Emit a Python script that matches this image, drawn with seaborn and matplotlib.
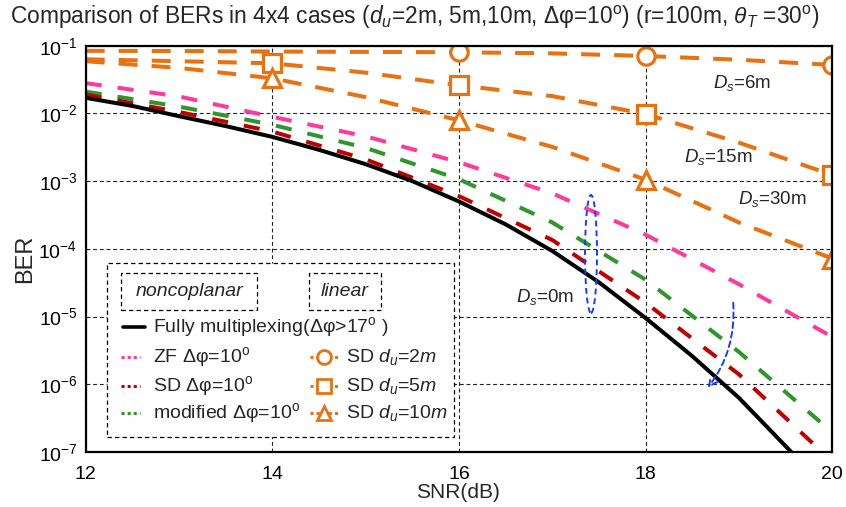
import matplotlib
matplotlib.use("Agg")
import matplotlib.pyplot as plt
import seaborn as sns
import pandas as pd
from matplotlib.patches import Rectangle, Ellipse, FancyArrowPatch
from matplotlib.lines import Line2D
from matplotlib.ticker import NullLocator

# ---------------- data ----------------
snr = [12, 13, 14, 15, 16, 17, 18, 19, 20]

snr_full = [12, 12.5, 13, 13.5, 14, 14.5, 15, 15.5, 16, 16.5, 17, 17.5, 18, 18.5, 19, 19.56]
ber_full = [1.70e-2, 1.29e-2, 9.1e-3, 6.5e-3, 4.5e-3, 2.9e-3, 1.78e-3, 1.0e-3,
            5.0e-4, 2.3e-4, 9.3e-5, 3.2e-5, 9.5e-6, 2.6e-6, 6.3e-7, 1.0e-7]

snr_sd = [12, 13, 14, 15, 16, 17, 18, 19, 19.89]
ber_sd = [1.9e-2, 1.05e-2, 5.4e-3, 2.1e-3, 6.0e-4, 1.35e-4, 1.6e-5, 1.4e-6, 1.0e-7]

ber_mod = [2.1e-2, 1.26e-2, 6.8e-3, 3.1e-3, 1.07e-3, 2.45e-4, 3.5e-5, 3.0e-6, 1.95e-7]
ber_zf = [2.8e-2, 1.78e-2, 8.9e-3, 4.6e-3, 1.9e-3, 6.6e-4, 1.62e-4, 3.0e-5, 5.0e-6]

ber_du2 = [8.4e-2, 8.35e-2, 8.2e-2, 8.1e-2, 8.0e-2, 7.7e-2, 7.05e-2, 6.2e-2, 5.2e-2]
ber_du5 = [6.3e-2, 5.9e-2, 5.5e-2, 4.0e-2, 2.6e-2, 1.8e-2, 9.8e-3, 3.7e-3, 1.23e-3]
ber_du10 = [5.9e-2, 4.7e-2, 3.3e-2, 1.74e-2, 7.9e-3, 3.2e-3, 1.05e-3, 2.45e-4, 7.2e-5]

yticks = [1e-7, 1e-6, 1e-5, 1e-4, 1e-3, 1e-2, 1e-1]
ytick_labels = [r"10$^{-7}$", r"10$^{-6}$", r"10$^{-5}$", r"10$^{-4}$",
                r"10$^{-3}$", r"10$^{-2}$", r"10$^{-1}$"]
xticks = [12, 14, 16, 18, 20]

ORANGE = "#E87212"
PINK = "#FF3A9E"
RED = "#C00000"
GREEN = "#2E962A"
BLUE = "#1A3CFF"

# ---------------- style ----------------
sns.set_theme(style="white")
FONTS = ["Liberation Sans", "DejaVu Sans"]
plt.rcParams["font.family"] = FONTS
plt.rcParams["mathtext.fontset"] = "custom"
plt.rcParams["mathtext.rm"] = "Liberation Sans"
plt.rcParams["mathtext.it"] = "Liberation Sans:italic"
plt.rcParams["mathtext.default"] = "regular"

fig = plt.figure(figsize=(8.46, 5.07), dpi=100)
W, H = 846.0, 507.0
L, T, R, B = 85.7, 45.7, 832.3, 452.0
ax = fig.add_axes([L / W, 1 - B / H, (R - L) / W, (B - T) / H])

def axx(px):
    return (px - L) / (R - L)

def axy(py):
    return (B - py) / (B - T)

LW = 2.9
dash_c = (0, (4.0, 4.0))
dash_o = (0, (4.7, 3.5))

def draw(x, y, color, ls, **kw):
    df = pd.DataFrame({"SNR": x, "BER": y})
    sns.lineplot(data=df, x="SNR", y="BER", ax=ax, color=color, lw=LW,
                 linestyle=ls, estimator=None, sort=False, **kw)

draw(snr, ber_zf, PINK, dash_c)
draw(snr, ber_mod, GREEN, dash_c)
draw(snr_sd, ber_sd, RED, dash_c)
draw(snr_full, ber_full, "black", "-")

mk = dict(markersize=12.5, markeredgewidth=2.3, markerfacecolor="white",
          markeredgecolor=ORANGE)
draw(snr, ber_du2, ORANGE, dash_o, marker="o", markevery=[4, 6, 8], **mk)
draw(snr, ber_du5, ORANGE, dash_o, marker="s", markevery=[2, 4, 6, 8], **mk)
draw(snr, ber_du10, ORANGE, dash_o, marker="^", markevery=[2, 4, 6, 8], **mk)

ax.set_yscale("log")
ax.set_xlim(12, 20)
ax.set_ylim(1e-7, 1e-1)
ax.set_xticks(xticks)
ax.set_xticklabels([str(v) for v in xticks])
ax.set_yticks(yticks)
ax.set_yticklabels(ytick_labels)
ax.yaxis.set_minor_locator(NullLocator())
ax.tick_params(axis="both", length=0, labelsize=14, colors="black")
ax.tick_params(axis="x", pad=10)
ax.tick_params(axis="y", pad=6)
ax.set_xlabel("")
ax.set_ylabel("")
ax.grid(True, which="major", linestyle=(0, (3.5, 2.5)), color="#222222", lw=0.8)
ax.set_axisbelow(True)
for s in ax.spines.values():
    s.set_color("black")
    s.set_linewidth(1.6)
    s.set_zorder(10)

# ---------------- texts ----------------
fig.text(10 / W, 1 - 17 / H,
         r"Comparison of BERs in 4x4 cases ($\mathit{d_u}$=2m, 5m,10m, $\Delta\varphi$=10$^{\rm o}$) "
         r"(r=100m, $\mathit{\theta_T}$ =30$^{\rm o}$)",
         fontsize=16.4, ha="left", va="center")
fig.text(25 / W, 1 - 259 / H, "BER", rotation=90, fontsize=17, ha="center", va="center")
fig.text(458 / W, 1 - 493 / H, "SNR(dB)", fontsize=15, ha="center", va="center")

ann = dict(transform=ax.transAxes, fontsize=13.5, ha="center", va="center")
ax.text(axx(742), axy(83), r"$\mathit{D_s}$=6m", **ann)
ax.text(axx(718), axy(157), r"$\mathit{D_s}$=15m", **ann)
ax.text(axx(772), axy(199), r"$\mathit{D_s}$=30m", **ann)
ax.text(axx(545), axy(297), r"$\mathit{D_s}$=0m", **ann)

# blue ellipse and curved arrow
ax.add_patch(Ellipse((axx(591), axy(254)), 12 / (R - L), 118 / (B - T),
                     transform=ax.transAxes, fill=False, edgecolor=BLUE,
                     lw=1.4, linestyle=(0, (3, 2)), zorder=6))
ax.add_patch(FancyArrowPatch((axx(733), axy(300)), (axx(706), axy(390)),
                             transform=ax.transAxes, connectionstyle="arc3,rad=-0.2",
                             arrowstyle="->,head_length=6,head_width=3",
                             color=BLUE, lw=1.4, linestyle=(0, (3, 2)), zorder=6))

# ---------------- legend block ----------------
box = dict(transform=ax.transAxes, facecolor="white", edgecolor="black",
           lw=0.9, linestyle=(0, (3.5, 2.5)))
ax.add_patch(Rectangle((axx(107.3), axy(436.7)), axx(454) - axx(107.3),
                       axy(263.3) - axy(436.7), zorder=7, **box))
ax.add_patch(Rectangle((axx(120.7), axy(310)), axx(257.3) - axx(120.7),
                       axy(273.3) - axy(310), zorder=8, **box))
ax.add_patch(Rectangle((axx(309.3), axy(310)), axx(380.7) - axx(309.3),
                       axy(273.3) - axy(310), zorder=8, **box))
LFS = 14
ax.text(axx(189), axy(292), "noncoplanar", style="italic", fontsize=LFS,
        transform=ax.transAxes, ha="center", va="center", zorder=9)
ax.text(axx(345), axy(292), "linear", style="italic", fontsize=LFS,
        transform=ax.transAxes, ha="center", va="center", zorder=9)

rows = [327.3, 357.3, 385.7, 413.3]
def handle(x0, x1, y, **kw):
    ax.add_line(Line2D([axx(x0), axx(x1)], [axy(y), axy(y)],
                       transform=ax.transAxes, zorder=9, **kw))

def ltext(x, y, s):
    ax.text(axx(x), axy(y), s, fontsize=LFS, transform=ax.transAxes,
            ha="left", va="center", zorder=9)

handle(123, 145, rows[0], color="black", lw=2.6)
ltext(153, rows[0], r"Fully multiplexing($\Delta\varphi$>17$^{\rm o}$ )")
dot = (0, (1.0, 1.0))
for (c, lab), y in zip([(PINK, "ZF"), (RED, "SD"), (GREEN, "modified")], rows[1:]):
    handle(121, 140, y, color=c, lw=2.2, linestyle=dot)
    ltext(153, y, lab + r" $\Delta\varphi$=10$^{\rm o}$")
for (m, lab), y in zip([("o", "2m"), ("s", "5m"), ("^", "10m")], rows[1:]):
    handle(310, 338, y, color=ORANGE, lw=2.2, linestyle=dot)
    ax.add_line(Line2D([axx(324)], [axy(y)], transform=ax.transAxes, zorder=9,
                       marker=m, markersize=10, markeredgewidth=2.0,
                       markerfacecolor="white", markeredgecolor=ORANGE))
    ltext(346.5, y, r"SD $\mathit{d_u}$=$\mathit{" + lab + "}$")

fig.savefig("out.png", dpi=100)
